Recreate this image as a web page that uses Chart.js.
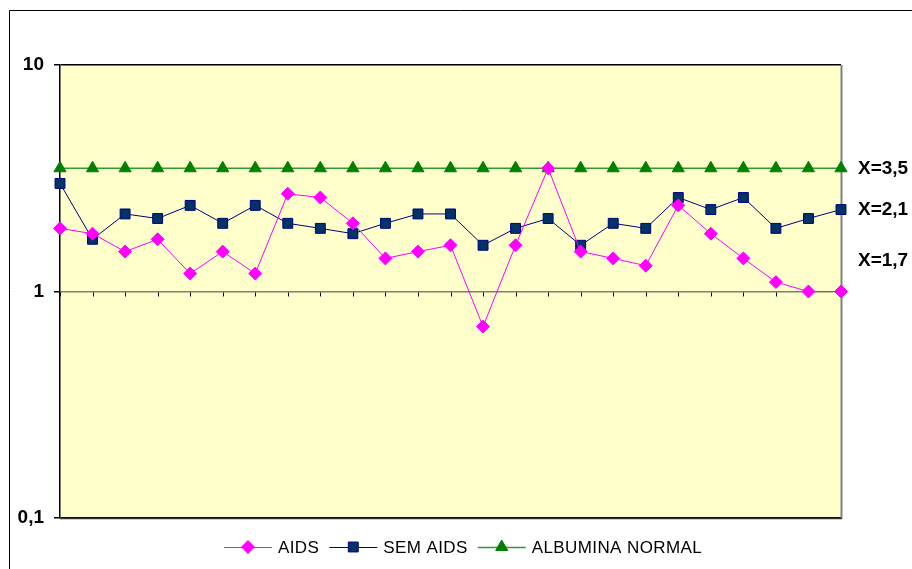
<!DOCTYPE html>
<html>
<head>
<meta charset="utf-8">
<script src="https://cdn.jsdelivr.net/npm/chart.js@4"></script>
<style>
  html, body { margin: 0; padding: 0; background: #fff; }
  #caixa { position: relative; width: 912px; height: 569px; }
</style>
</head>
<body>
<div id="caixa"><canvas id="grafico" width="912" height="569"></canvas></div>
<script>
// dados
const pacientes = ['1','2','3','4','5','6','7','8','9','10','11','12','13','14','15','16','17','18','19','20','21','22','23','24','25'];
const aids = [1.9, 1.8, 1.5, 1.7, 1.2, 1.5, 1.2, 2.7, 2.6, 2.0, 1.4, 1.5, 1.6, 0.7, 1.6, 3.5, 1.5, 1.4, 1.3, 2.4, 1.8, 1.4, 1.1, 1.0, 1.0];
const semAids = [3.0, 1.7, 2.2, 2.1, 2.4, 2.0, 2.4, 2.0, 1.9, 1.8, 2.0, 2.2, 2.2, 1.6, 1.9, 2.1, 1.6, 2.0, 1.9, 2.6, 2.3, 2.6, 1.9, 2.1, 2.3];
const albuminaNormal = [3.5, 3.5, 3.5, 3.5, 3.5, 3.5, 3.5, 3.5, 3.5, 3.5, 3.5, 3.5, 3.5, 3.5, 3.5, 3.5, 3.5, 3.5, 3.5, 3.5, 3.5, 3.5, 3.5, 3.5, 3.5];

const valoresEixoY = [0.1, 1, 10];
const rotulosEixoY = ['0,1', '1', '10'];

// rotulos das medias a direita (texto e valor onde ficam)
const rotulosMedia = ['X=3,5', 'X=2,1', 'X=1,7'];
const posicaoMedia = [3.5, 2.3, 1.37];

const fonte = "'Liberation Sans', Arial, sans-serif";

const fundoPlot = {
  id: 'fundoPlot',
  beforeDraw(chart) {
    const {ctx, chartArea: a} = chart;
    ctx.save();
    ctx.fillStyle = '#ffffcc';
    ctx.fillRect(a.left, a.top, a.right - a.left, a.bottom - a.top);
    // borda externa
    ctx.strokeStyle = '#000';
    ctx.lineWidth = 1;
    ctx.beginPath();
    ctx.moveTo(9.5, 569);
    ctx.lineTo(9.5, 10.5);
    ctx.lineTo(912, 10.5);
    ctx.stroke();
    ctx.restore();
  },
  beforeDatasetsDraw(chart) {
    const {ctx, chartArea: a, scales} = chart;
    ctx.save();
    // borda direita e inferior
    ctx.strokeStyle = '#808080';
    ctx.lineWidth = 2;
    ctx.beginPath();
    ctx.moveTo(a.right + 0.5, a.top);
    ctx.lineTo(a.right + 0.5, a.bottom + 0.5);
    ctx.stroke();
    ctx.strokeStyle = '#333';
    ctx.lineWidth = 1.5;
    ctx.beginPath();
    ctx.moveTo(a.left, a.bottom + 0.5);
    ctx.lineTo(a.right + 1, a.bottom + 0.5);
    ctx.stroke();
    // marcas das categorias sobre a linha do 1
    const y1 = Math.round(scales.y.getPixelForValue(1)) + 0.5;
    ctx.strokeStyle = '#000';
    ctx.lineWidth = 1;
    ctx.beginPath();
    for (let i = 0; i < pacientes.length; i++) {
      const x = Math.round(scales.x.getPixelForValue(i)) + 0.5;
      ctx.moveTo(x, y1);
      ctx.lineTo(x, y1 + 4);
    }
    ctx.stroke();
    ctx.restore();
  },
  afterDraw(chart) {
    const {ctx, chartArea: a, scales} = chart;
    ctx.save();
    // medias
    ctx.fillStyle = '#000';
    ctx.font = 'bold 19px ' + fonte;
    ctx.textBaseline = 'middle';
    ctx.textAlign = 'left';
    rotulosMedia.forEach((t, i) => {
      ctx.fillText(t, a.right + 17, scales.y.getPixelForValue(posicaoMedia[i]));
    });
    // legenda: linha + marcador + texto
    const yl = 547;
    ctx.font = '17px ' + fonte;
    ctx.letterSpacing = '0.4px';
    let x = 224;
    chart.data.datasets.forEach(ds => {
      ctx.strokeStyle = ds.borderColor;
      ctx.lineWidth = ds.borderWidth;
      ctx.beginPath();
      ctx.moveTo(x, yl + 0.5);
      ctx.lineTo(x + 48, yl + 0.5);
      ctx.stroke();
      ctx.fillStyle = ds.pointBackgroundColor;
      ctx.strokeStyle = ds.pointBorderColor;
      ctx.lineWidth = 1;
      Chart.helpers.drawPoint(ctx, {pointStyle: ds.pointStyle, radius: ds.pointRadius, borderWidth: 1}, x + 24, yl);
      ctx.fillStyle = '#000';
      ctx.fillText(ds.label, x + 54, yl + 1);
      x += 54 + ctx.measureText(ds.label).width + 10;
    });
    ctx.restore();
  }
};

const config = {
  type: 'line',
  data: {
    labels: pacientes,
    datasets: [
      {
        label: 'AIDS',
        data: aids,
        borderColor: '#ff00ff',
        borderWidth: 1,
        pointStyle: 'rectRot',
        pointRadius: 6.5,
        pointBackgroundColor: '#ff00ff',
        pointBorderColor: '#ff00ff',
        pointBorderWidth: 1,
        tension: 0,
        clip: false
      },
      {
        label: 'SEM AIDS',
        data: semAids,
        borderColor: '#000080',
        borderWidth: 1,
        pointStyle: 'rect',
        pointRadius: 7,
        pointBackgroundColor: '#003366',
        pointBorderColor: '#000080',
        pointBorderWidth: 1,
        tension: 0,
        clip: false
      },
      {
        label: 'ALBUMINA NORMAL',
        data: albuminaNormal,
        borderColor: '#339933',
        borderWidth: 1.5,
        pointStyle: 'triangle',
        pointRadius: 7,
        pointBackgroundColor: '#008000',
        pointBorderColor: '#008000',
        pointBorderWidth: 1,
        tension: 0,
        clip: false
      }
    ]
  },
  options: {
    responsive: false,
    animation: false,
    layout: { padding: { top: 65, right: 71, bottom: 51, left: 0 } },
    plugins: {
      legend: { display: false },
      tooltip: { enabled: false }
    },
    scales: {
      x: {
        type: 'category',
        display: false,
        offset: false
      },
      y: {
        type: 'logarithmic',
        min: 0.1,
        max: 10,
        afterBuildTicks: s => { s.ticks = valoresEixoY.map(v => ({value: v})); },
        afterFit: s => { s.width = 60; },
        border: { display: true, color: '#000', width: 1.5 },
        grid: {
          drawOnChartArea: true,
          tickLength: 6,
          tickColor: '#000',
          lineWidth: 1.5,
          color: c => (c.tick && c.tick.value === 1) ? '#808070' : '#000'
        },
        ticks: {
          padding: 10,
          color: '#000',
          font: { family: fonte, size: 19, weight: 'bold' },
          callback: (v) => {
            const i = valoresEixoY.indexOf(v);
            return i >= 0 ? rotulosEixoY[i] : '';
          }
        }
      }
    }
  },
  plugins: [fundoPlot]
};

const grafico = new Chart(document.getElementById('grafico'), config);
</script>
</body>
</html>
